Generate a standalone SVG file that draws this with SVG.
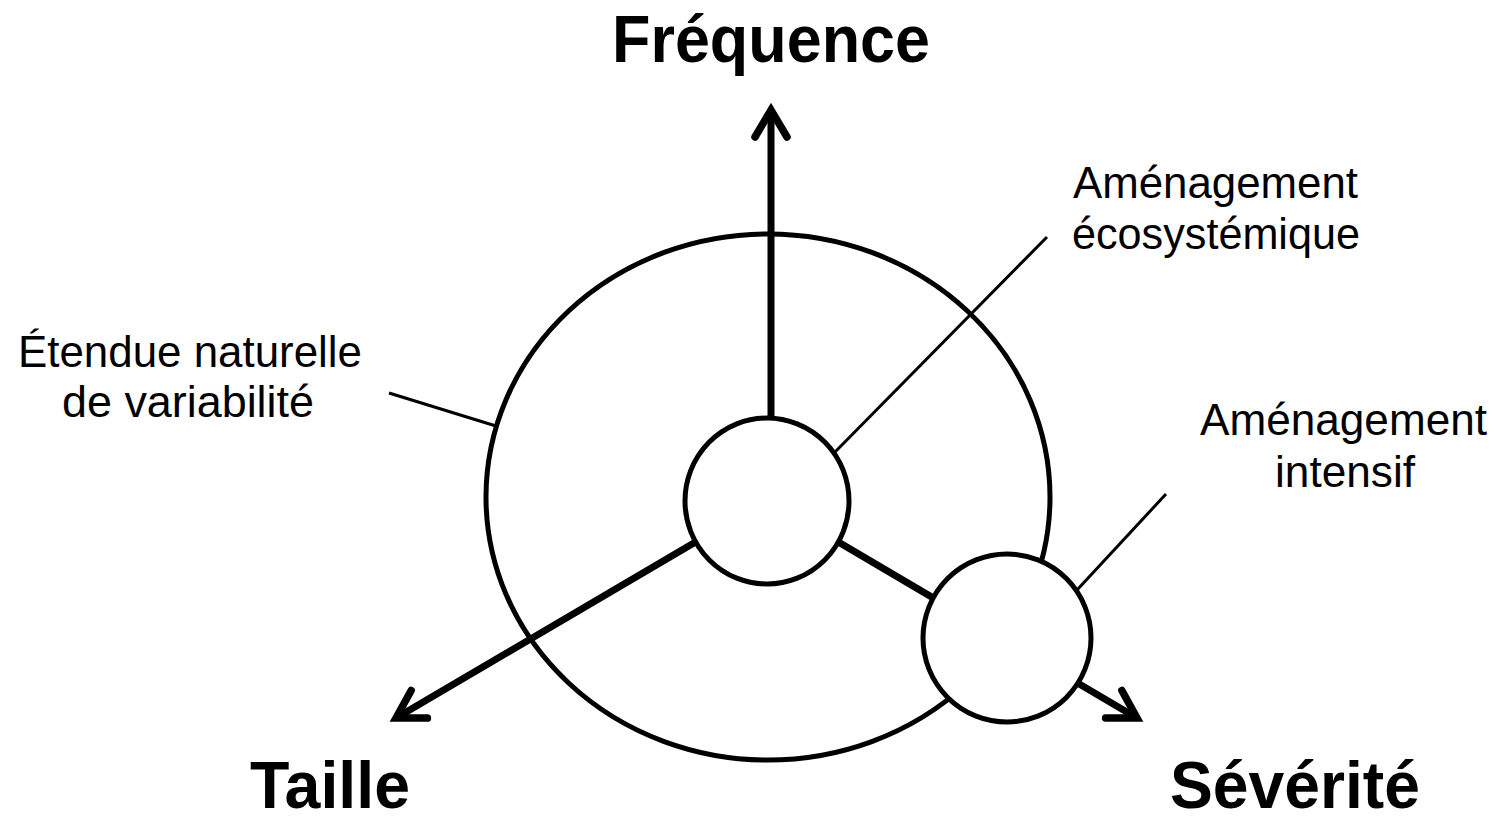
<svg xmlns="http://www.w3.org/2000/svg" width="1499" height="822" viewBox="0 0 1499 822">
<style>
.bg{fill:#fff}
.ring{fill:none;stroke:#000;stroke-width:5}
.node{fill:#fff;stroke:#000;stroke-width:5}
.axis{fill:none;stroke:#000;stroke-width:7}
.lead{fill:none;stroke:#000;stroke-width:3}
.head{font-family:"Liberation Sans",Arial,sans-serif;font-weight:bold;font-size:67px;fill:#000;text-anchor:middle}
.foot{font-size:66px}
.lbl{font-family:"Liberation Sans",Arial,sans-serif;font-size:44px;fill:#000;text-anchor:middle}
</style>
<defs>
<marker id="arr" markerUnits="userSpaceOnUse" viewBox="-40 -25 50 50" markerWidth="50" markerHeight="50" refX="0" refY="0" orient="auto">
<path d="M-27,-16 L0,0 L-27,16" fill="none" stroke="#000" stroke-width="7.5" stroke-linecap="round" stroke-linejoin="miter"/>
</marker>
</defs>
<rect class="bg" x="0" y="0" width="1499" height="822"/>
<g id="range">
<ellipse class="ring" cx="768" cy="497" rx="282" ry="263"/>
</g>
<g id="connectors">
<line class="axis" x1="771" y1="500" x2="771" y2="110" marker-end="url(#arr)"/>
<line class="axis" x1="767" y1="500" x2="396" y2="718" marker-end="url(#arr)"/>
<line class="axis" x1="767" y1="500" x2="1137" y2="718" marker-end="url(#arr)"/>
<line class="lead" x1="389" y1="393" x2="496" y2="426"/>
<line class="lead" x1="835" y1="452" x2="1047" y2="237"/>
<line class="lead" x1="1077" y1="590" x2="1166" y2="494"/>
</g>
<g id="center">
<ellipse class="node" cx="767" cy="501" rx="82" ry="83"/>
</g>
<g id="intensive">
<circle class="node" cx="1007" cy="638" r="84"/>
</g>
<g id="label-frequence"><text class="head" x="771" y="62" textLength="318" lengthAdjust="spacingAndGlyphs">Fréquence</text></g>
<g id="label-taille"><text class="head foot" x="330" y="808" textLength="160" lengthAdjust="spacingAndGlyphs">Taille</text></g>
<g id="label-severite"><text class="head foot" x="1295" y="808" textLength="250" lengthAdjust="spacingAndGlyphs">Sévérité</text></g>
<g id="label-eco">
<text class="lbl" x="1215.5" y="198" textLength="285" lengthAdjust="spacingAndGlyphs">Aménagement</text>
<text class="lbl" x="1216" y="249" textLength="288" lengthAdjust="spacingAndGlyphs">écosystémique</text>
</g>
<g id="label-intensif">
<text class="lbl" x="1343.5" y="435" textLength="287" lengthAdjust="spacingAndGlyphs">Aménagement</text>
<text class="lbl" x="1345" y="487" textLength="140" lengthAdjust="spacingAndGlyphs">intensif</text>
</g>
<g id="label-etendue">
<text class="lbl" x="190" y="367" textLength="344" lengthAdjust="spacingAndGlyphs">Étendue naturelle</text>
<text class="lbl" x="188" y="417" textLength="252" lengthAdjust="spacingAndGlyphs">de variabilité</text>
</g>
</svg>
